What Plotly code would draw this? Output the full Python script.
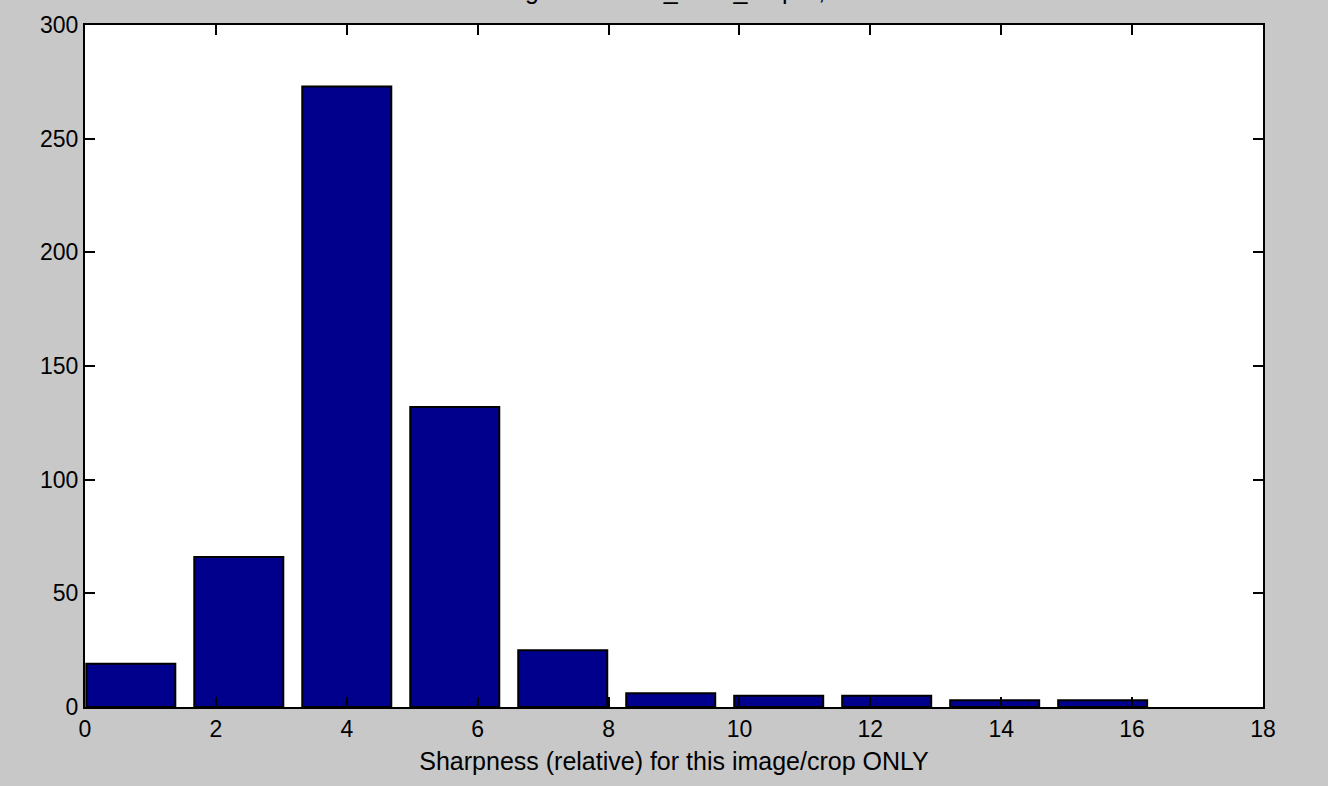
import plotly.graph_objects as go

bin_centers = [0.70, 2.35, 4.00, 5.65, 7.30, 8.95, 10.60, 12.25, 13.90, 15.55]
counts = [19, 66, 273, 132, 25, 6, 5, 5, 3, 3]
x_ticks = [0, 2, 4, 6, 8, 10, 12, 14, 16, 18]
y_ticks = [0, 50, 100, 150, 200, 250, 300]
title_text = "Histogram of IMG_0007_crop-1, 0.07"
x_label = "Sharpness (relative) for this image/crop ONLY"

fig = go.Figure()
fig.add_trace(go.Bar(
    x=bin_centers, y=counts, width=1.36,
    marker=dict(color="rgb(0,0,140)", line=dict(color="black", width=2)),
))

tick_font = dict(family="Liberation Sans, Arial, sans-serif", size=23, color="black")
label_font = dict(family="Liberation Sans, Arial, sans-serif", size=25, color="black")
axis_common = dict(
    showgrid=False, zeroline=False, showline=True, linecolor="black", linewidth=2,
    mirror="ticks", ticks="inside", ticklen=10, tickwidth=1.5, tickcolor="black",
    tickfont=tick_font,
)
fig.update_xaxes(range=[0, 18], tickvals=x_ticks, title=dict(text=x_label, font=label_font, standoff=12), **axis_common)
fig.update_yaxes(range=[0, 300], tickvals=y_ticks, **axis_common)

fig.add_annotation(text=title_text, xref="paper", yref="paper", x=0.5, y=1.028,
                   yanchor="bottom", xanchor="center", showarrow=False, font=label_font)

fig.update_layout(
    width=1328, height=786, autosize=False,
    margin=dict(l=85, r=65, t=22, b=79),
    paper_bgcolor="rgb(200,200,200)", plot_bgcolor="white",
    showlegend=False, font=tick_font,
)
fig.write_html("out.html", config={"displayModeBar": False},
               post_script="document.body.style.margin='0px';document.body.style.background='rgb(200,200,200)';")
